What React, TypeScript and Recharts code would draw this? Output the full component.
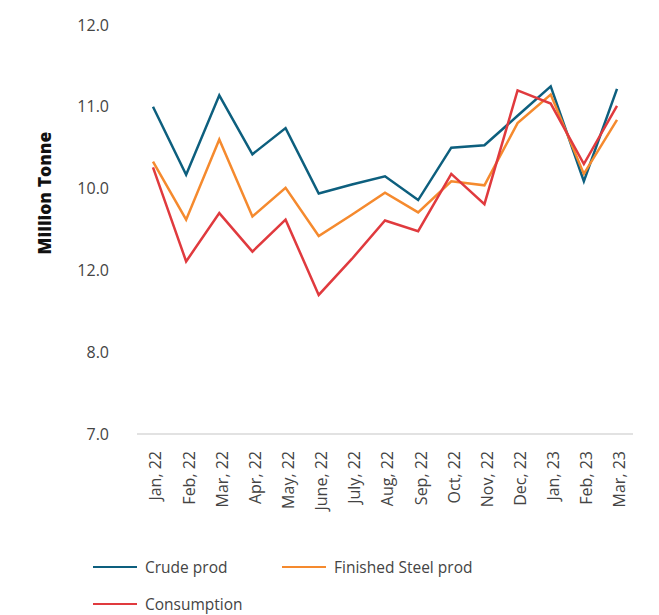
import React from 'react';
import { LineChart, Line, XAxis, YAxis, Legend, Label } from 'recharts';

const months = [
  'Jan, 22', 'Feb, 22', 'Mar, 22', 'Apr, 22', 'May, 22', 'June, 22', 'July, 22', 'Aug, 22',
  'Sep, 22', 'Oct, 22', 'Nov, 22', 'Dec, 22', 'Jan, 23', 'Feb, 23', 'Mar, 23',
];
const crudeProd = [11.0, 10.17, 11.14, 10.42, 10.74, 9.94, 10.05, 10.15, 9.86, 10.5, 10.53, 10.89, 11.25, 10.09, 11.22];
const finishedSteelProd = [10.33, 9.62, 10.6, 9.66, 10.01, 9.42, 9.68, 9.95, 9.71, 10.09, 10.04, 10.8, 11.15, 10.18, 10.84];
const consumption = [10.26, 9.11, 9.7, 9.23, 9.62, 8.7, 9.14, 9.61, 9.48, 10.18, 9.81, 11.2, 11.04, 10.3, 11.01];

// tick values and the labels printed next to them (the source labels 9 as "12.0")
const yTicks = [7, 8, 9, 10, 11, 12];
const yTickLabels = ['7.0', '8.0', '12.0', '10.0', '11.0', '12.0'];

const data = months.map((m, i) => ({
  month: m,
  crude: crudeProd[i],
  finished: finishedSteelProd[i],
  consumption: consumption[i],
}));

const FONT = '"Open Sans", sans-serif';

const series = [
  { key: 'crude', name: 'Crude prod', color: '#0d5f7e' },
  { key: 'finished', name: 'Finished Steel prod', color: '#f58a2e' },
  { key: 'consumption', name: 'Consumption', color: '#e03a3e' },
];

function LegendBox() {
  return (
    <div style={{ display: 'grid', gridTemplateColumns: '189px 240px', rowGap: 15, fontFamily: FONT }}>
      {series.map((s) => (
        <div key={s.key} style={{ display: 'flex', alignItems: 'center', height: 22 }}>
          <span style={{ display: 'inline-block', width: 44, height: 2.5, background: s.color, marginRight: 8 }} />
          <span style={{ fontSize: 15.5, color: '#444' }}>{s.name}</span>
        </div>
      ))}
    </div>
  );
}

function YTitle(props: any) {
  return (
    <text
      x={51}
      y={193}
      transform="rotate(-90 51 193)"
      textAnchor="middle"
      fontFamily={FONT}
      fontSize={17.5}
      fontWeight={800}
      fill="#111"
    >
      Million Tonne
    </text>
  );
}

export default function App() {
  return (
    <div style={{ position: 'absolute', left: 0, top: 0, width: 659, height: 615, background: '#fff' }}>
      <LineChart width={659} height={615} data={data} margin={{ top: 25, right: 26, bottom: 40, left: 0 }}>
        <XAxis
          dataKey="month"
          interval={0}
          padding={{ left: 16, right: 16 }}
          axisLine={{ stroke: '#d9d9d9', strokeWidth: 1.5 }}
          tickLine={false}
          tickSize={0}
          tickMargin={17}
          angle={-90}
          textAnchor="end"
          height={82}
          tick={{ fontFamily: FONT, fontSize: 16, fill: '#444', dx: -3 }}
        />
        <YAxis
          domain={[7, 12]}
          ticks={yTicks}
          width={137}
          axisLine={false}
          tickLine={false}
          tickSize={0}
          tickMargin={28}
          tickFormatter={(v: number) => yTickLabels[yTicks.indexOf(v)]}
          tick={{ fontFamily: FONT, fontSize: 16, fill: '#444' }}
        >
          <Label content={<YTitle />} />
        </YAxis>
        <Legend
          content={<LegendBox />}
          wrapperStyle={{ position: 'absolute', left: 93, top: 556, width: 440 }}
        />
        {series.map((s) => (
          <Line
            key={s.key}
            type="linear"
            dataKey={s.key}
            name={s.name}
            stroke={s.color}
            strokeWidth={2.5}
            dot={false}
            activeDot={false}
            isAnimationActive={false}
          />
        ))}
      </LineChart>
    </div>
  );
}
